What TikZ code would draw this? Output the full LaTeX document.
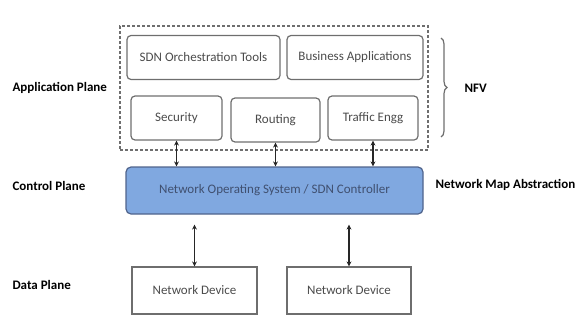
\documentclass[tikz,border=0pt]{standalone}
\usepackage{fontspec}
\setmainfont{Carlito}
\usetikzlibrary{arrows.meta, decorations.pathreplacing}

\definecolor{rahmengrau}{RGB}{110,110,110}
\definecolor{textgrau}{RGB}{75,75,75}
\definecolor{steuerblau}{RGB}{128,168,224}
\definecolor{steuerrand}{RGB}{80,100,140}

\tikzset{
  appbox/.style={draw=rahmengrau, line width=1.2pt, rounded corners=4pt, minimum height=44pt, text=textgrau, font=\fontsize{13}{15}\selectfont},
  geraet/.style={draw=rahmengrau, line width=1.2pt, minimum width=125pt, minimum height=47pt, text=textgrau, font=\fontsize{13}{15}\selectfont},
  ebene/.style={anchor=west, font=\bfseries\fontsize{13}{15}\selectfont},
  pfeil/.style={line width=1.3pt, black!85, {Stealth[length=5pt,width=5pt]}-{Stealth[length=5pt,width=5pt]}}
}

\begin{document}
\begin{tikzpicture}[x=1pt,y=-1pt]
	\useasboundingbox (0,0) rectangle (577,332);

	% Zeichnet den gestrichelten Rahmen der Anwendungsebene
	\node[draw=rahmengrau, dash pattern=on 3pt off 2pt, line width=1.1pt, minimum width=308pt, minimum height=124pt] (appebene) at (274,88) {};

	% Zeichnet die Anwendungen (obere Reihe)
	\node[appbox, minimum width=153pt] (orch) at (203.5,57.5) {SDN Orchestration Tools};
	\node[appbox, minimum width=136pt] (business) at (355,57.5) {Business Applications};

	% Zeichnet die Anwendungen (untere Reihe)
	\node[appbox, minimum width=91pt] (security) at (176.5,118) {Security};
	\node[appbox, minimum width=89pt] (routing) at (275.5,120) {Routing};
	\node[appbox, minimum width=90pt] (traffic) at (373,118) {Traffic Engg};

	% Zeichnet den Controller
	\node[draw=steuerrand, fill=steuerblau, line width=1.2pt, rounded corners=5pt, minimum width=297pt, minimum height=47pt, text=steuerrand!80!black, font=\fontsize{13}{15}\selectfont] (nos) at (274.5,190.5) {Network Operating System / SDN Controller};

	% Zeichnet die Netzwerkgeraete
	\node[geraet] (dev1) at (194.5,290.5) {Network Device};
	\node[geraet, minimum width=124pt] (dev2) at (349,290.5) {Network Device};

	% Beschriftung der Ebenen links
	\node[ebene] (appplane) at (9,88) {Application Plane};
	\node[ebene] (ctrlplane) at (9,186) {Control Plane};
	\node[ebene] (dataplane) at (9,285) {Data Plane};

	% Beschriftung rechts
	\node[ebene] (nfv) at (461,88) {NFV};
	\node[ebene] (netmap) at (432,185) {Network Map Abstraction};

	% Zeichnet die Klammer fuer NFV
	\draw[rahmengrau, line width=1.2pt, decorate, decoration={brace, amplitude=6pt}] (441,38) -- (441,137);

	% Pfeile zwischen Anwendungen und Controller
	\draw[pfeil] (security.south) -- (security.south |- nos.north);
	\draw[pfeil] (routing.south) -- (routing.south |- nos.north);
	\draw[pfeil] (traffic.south) -- (traffic.south |- nos.north);

	% Pfeile zwischen Controller und Netzwerkgeraeten
	\draw[pfeil] (dev1.north |- nos.south) ++(0,10) -- (dev1.north);
	\draw[pfeil] (dev2.north |- nos.south) ++(0,10) -- (dev2.north);
\end{tikzpicture}
\end{document}
